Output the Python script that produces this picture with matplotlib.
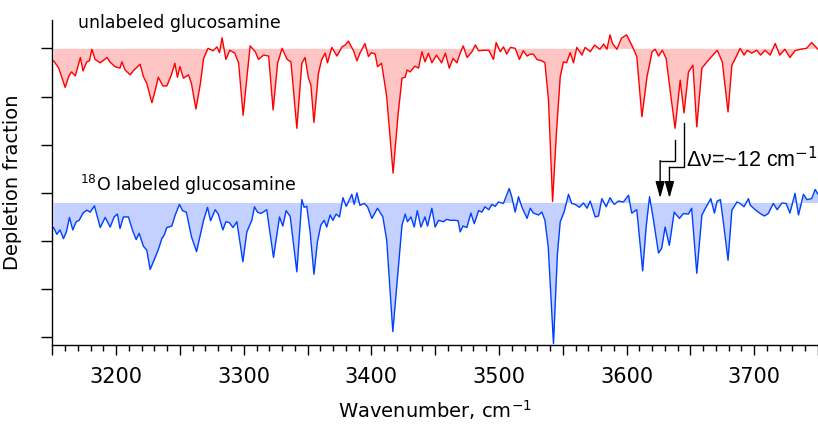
import numpy as np
import matplotlib
matplotlib.use("Agg")
import matplotlib.pyplot as plt
from matplotlib.ticker import MultipleLocator, FuncFormatter

# --- data (wavenumber in cm-1, depletion relative to baseline) ---
red_wn = [3151, 3155, 3157, 3160, 3163, 3165, 3168, 3172, 3174, 3177, 3179, 3181, 3183.5, 3187.5,
          3193, 3195, 3199, 3203, 3204.5, 3207, 3211, 3213.6, 3218.8, 3221.4, 3224, 3228, 3230.6,
          3233, 3236.6, 3239.7, 3243, 3246, 3248, 3250, 3252.7, 3256.7, 3259, 3262.5, 3266, 3268.5,
          3272, 3276, 3279, 3281, 3283, 3286, 3289, 3293, 3296, 3299.5, 3302.5, 3305, 3309, 3311.5,
          3315.5, 3319.5, 3323, 3326.5, 3330, 3334, 3337, 3341.6, 3345.5, 3348, 3350.7, 3352.6, 3355,
          3358.5, 3361, 3363.8, 3365.6, 3369, 3373, 3377, 3379.5, 3382, 3386, 3388.7, 3391, 3395,
          3397.7, 3400, 3403, 3404.8, 3408, 3412, 3417, 3421, 3424, 3426.5, 3428, 3430.4, 3434, 3437,
          3439.6, 3442, 3444.7, 3447.4, 3451, 3455, 3458, 3461, 3464, 3467, 3469.6, 3472, 3475,
          3478.8, 3481.5, 3484, 3488, 3492, 3495.7, 3497.8, 3501, 3503.5, 3506, 3509, 3512.7, 3516,
          3519, 3522, 3524.5, 3527, 3529.7, 3533.6, 3536, 3538.8, 3542, 3545, 3548, 3550.5, 3553,
          3555.8, 3558.4, 3561, 3565, 3567.5, 3571.5, 3575, 3579, 3582, 3584.6, 3587, 3589, 3592.4,
          3596, 3600, 3604, 3608, 3612, 3616, 3620, 3622.4, 3625, 3628, 3631, 3634.4, 3638, 3642,
          3645, 3648.5, 3652, 3655, 3659, 3663, 3667, 3671, 3675, 3679.5, 3682.5, 3686.5, 3689, 3692,
          3694.7, 3698, 3702, 3705, 3708.6, 3712.5, 3716.5, 3720, 3724, 3728, 3732, 3736, 3741, 3745,
          3750]
red_val = [-0.026, -0.041, -0.057, -0.081, -0.057, -0.049, -0.057, -0.019, -0.047, -0.028, -0.026,
           -0.002, -0.023, -0.030, -0.019, -0.028, -0.038, -0.041, -0.028, -0.045, -0.055, -0.046,
           -0.033, -0.059, -0.073, -0.113, -0.087, -0.060, -0.078, -0.078, -0.057, -0.031, -0.060,
           -0.038, -0.062, -0.055, -0.073, -0.126, -0.073, -0.021, 0.000, -0.005, 0.003, -0.009,
           0.022, -0.023, -0.004, -0.010, -0.031, -0.139, -0.059, 0.005, -0.007, -0.023, -0.014,
           -0.016, -0.128, -0.031, 0.000, -0.023, -0.028, -0.166, -0.031, -0.019, -0.062, -0.076,
           -0.154, -0.052, -0.024, -0.010, -0.030, 0.002, -0.016, 0.003, 0.007, 0.015, -0.005,
           -0.026, -0.010, 0.010, -0.017, -0.009, -0.012, -0.038, -0.031, -0.100, -0.259, -0.135,
           -0.062, -0.060, -0.045, -0.049, -0.037, -0.041, -0.007, -0.028, -0.010, -0.030, -0.014,
           -0.030, -0.010, -0.041, -0.021, -0.030, -0.010, 0.005, -0.019, -0.007, 0.007, -0.005,
           -0.004, -0.004, -0.023, 0.012, -0.007, 0.003, -0.012, 0.002, 0.000, -0.023, -0.005,
           -0.016, -0.012, -0.012, -0.023, -0.026, -0.030, -0.107, -0.318, -0.176, -0.059, -0.028,
           -0.030, -0.009, -0.030, 0.002, -0.014, 0.002, -0.007, 0.007, -0.002, 0.009, -0.002,
           0.028, 0.010, -0.002, 0.021, 0.028, 0.007, -0.017, -0.142, -0.059, -0.007, -0.002,
           -0.016, -0.004, -0.021, -0.093, -0.166, -0.066, -0.134, -0.049, -0.035, -0.163, -0.041,
           -0.028, -0.016, -0.004, -0.028, -0.132, -0.035, -0.014, 0.000, -0.014, -0.004, -0.010,
           -0.004, -0.014, -0.004, -0.014, 0.010, -0.014, -0.002, -0.019, -0.005, -0.002, 0.000,
           0.012, -0.002]

blue_wn = [3151, 3153.5, 3156, 3158.7, 3161, 3163.4, 3166, 3168.7, 3171, 3174, 3177, 3179.6, 3183,
           3187.5, 3191.4, 3195.3, 3198.4, 3201, 3203, 3205.7, 3209.6, 3213, 3215.7, 3218, 3221.4,
           3224, 3226.6, 3230.6, 3233, 3235.8, 3237.6, 3239.7, 3243.6, 3246, 3249.6, 3252, 3255,
           3259, 3263, 3268.5, 3271.6, 3274, 3277.6, 3280, 3283.6, 3286, 3288.8, 3291.5, 3294.6,
           3299.3, 3302.4, 3306.3, 3308.4, 3310.7, 3313.4, 3318, 3323.3, 3328, 3330.6, 3333.2,
           3336.4, 3341.6, 3345.5, 3347.3, 3349.4, 3352, 3355, 3357.7, 3360.4, 3363, 3365, 3367.7,
           3369.8, 3372.4, 3375, 3377.7, 3380.3, 3384.7, 3386.5, 3388.7, 3391, 3394.4, 3397,
           3400.4, 3404.8, 3409, 3412, 3416.8, 3420.5, 3424, 3426.5, 3428.3, 3431, 3433.6, 3436,
           3438.8, 3442, 3444, 3447.4, 3450, 3452.6, 3456.5, 3459, 3461.7, 3465.7, 3468, 3469.6,
           3471.7, 3474.8, 3478, 3480.6, 3484, 3486.6, 3489, 3492, 3494.4, 3497, 3499.6, 3503.5,
           3508, 3510, 3512.7, 3515.3, 3518, 3522, 3524.5, 3527, 3531, 3533.6, 3536, 3538.6, 3542.7,
           3545.8, 3548, 3551, 3554.5, 3557, 3559.7, 3563, 3566.2, 3569, 3571.5, 3575.4, 3578,
           3580.6, 3584, 3587, 3590.3, 3593.6, 3597.5, 3601.5, 3604, 3608, 3612.6, 3615.3, 3618,
           3621, 3625, 3627.5, 3630.2, 3633.5, 3637.3, 3641.4, 3644.5, 3648.5, 3651, 3655, 3659,
           3663, 3666, 3668.8, 3671, 3673.5, 3676, 3679.5, 3682.5, 3686.5, 3689, 3692, 3695.5, 3697,
           3700.8, 3704.7, 3708, 3711, 3715, 3718, 3721.7, 3725, 3728, 3732, 3734.7, 3738.6, 3741.3,
           3745, 3747.8, 3750]
blue_val = [-0.052, -0.066, -0.057, -0.075, -0.061, -0.031, -0.057, -0.040, -0.037, -0.022, -0.016,
            -0.020, -0.007, -0.052, -0.031, -0.051, -0.030, -0.024, -0.054, -0.030, -0.030, -0.059,
            -0.077, -0.064, -0.091, -0.099, -0.139, -0.114, -0.098, -0.075, -0.068, -0.052, -0.049,
            -0.028, -0.004, -0.017, -0.020, -0.071, -0.102, -0.037, -0.010, -0.038, -0.015, -0.024,
            -0.057, -0.040, -0.042, -0.052, -0.040, -0.123, -0.061, -0.037, -0.009, -0.020, -0.023,
            -0.015, -0.114, -0.030, -0.049, -0.017, -0.029, -0.144, 0.006, -0.010, -0.008, -0.061,
            -0.149, -0.082, -0.047, -0.037, -0.051, -0.026, -0.037, -0.024, -0.030, 0.010, -0.008,
            0.017, -0.004, 0.020, -0.006, -0.002, -0.009, -0.033, -0.012, -0.030, -0.078, -0.268,
            -0.154, -0.047, -0.024, -0.040, -0.030, -0.051, -0.017, -0.051, -0.030, -0.049, -0.012,
            -0.051, -0.037, -0.040, -0.035, -0.037, -0.037, -0.038, -0.061, -0.049, -0.052, -0.022,
            -0.044, -0.017, -0.020, -0.009, -0.015, -0.004, -0.008, 0.001, -0.002, 0.029, 0.012,
            -0.020, 0.012, -0.010, -0.033, -0.012, -0.022, -0.026, -0.020, -0.037, -0.092, -0.293,
            -0.106, -0.040, -0.020, 0.017, -0.002, -0.004, -0.010, -0.001, -0.012, 0.003, -0.030,
            -0.028, 0.008, -0.009, 0.010, -0.004, 0.003, 0.001, 0.015, -0.022, -0.015, -0.142,
            -0.051, 0.012, -0.035, -0.105, -0.095, -0.051, -0.089, -0.020, -0.033, -0.023, -0.024,
            -0.012, -0.147, -0.026, -0.006, 0.008, -0.022, 0.003, 0.006, -0.044, -0.120, -0.016,
            0.001, -0.002, -0.009, 0.008, -0.006, -0.015, -0.023, -0.028, -0.023, -0.002, -0.015,
            -0.001, -0.002, -0.022, 0.019, -0.026, 0.017, 0.006, 0.008, 0.027, 0.017]

red_offset = 0.0
blue_offset = -0.32

plt.rcParams["font.family"] = "DejaVu Sans"

fig = plt.figure(figsize=(8.18, 4.36), dpi=100)
ax = fig.add_axes([0.064, 0.209, 0.936, 0.745])

red_wn = np.array(red_wn)
blue_wn = np.array(blue_wn)
red_y = red_offset + np.array(red_val)
blue_y = blue_offset + np.array(blue_val)

ax.fill_between(red_wn, red_offset, red_y, color="#ffc4c4", lw=0)
ax.plot(red_wn, red_y, color="#ff0000", lw=1.0, solid_joinstyle="round")
ax.fill_between(blue_wn, blue_offset, blue_y, color="#c4d0ff", lw=0)
ax.plot(blue_wn, blue_y, color="#0040ff", lw=1.0, solid_joinstyle="round")

ax.set_xlim(3150, 3750)
ax.set_ylim(-0.6156, 0.0587)

# axes styling (Igor-like)
for s in ("top", "right"):
    ax.spines[s].set_visible(False)
for s in ("left", "bottom"):
    ax.spines[s].set_linewidth(1.0)

ax.set_yticks(np.arange(0, -0.61, -0.1))
ax.tick_params(axis="y", labelleft=False, length=8, width=1.0, direction="out")
ax.xaxis.set_major_locator(MultipleLocator(50))
ax.xaxis.set_minor_locator(MultipleLocator(10))
ax.xaxis.set_major_formatter(FuncFormatter(lambda v, p: f"{v:.0f}" if round(v) % 100 == 0 else ""))
ax.tick_params(axis="x", which="major", length=7, width=1.0, labelsize=15, pad=9)
ax.tick_params(axis="x", which="minor", length=4, width=1.0)

ax.set_xlabel("Wavenumber, cm$^{-1}$", fontsize=14, labelpad=8)
ax.set_ylabel("Depletion fraction", fontsize=14, labelpad=14)

ax.text(3170.2, 0.0415, "unlabeled glucosamine", fontsize=12.5, va="baseline")
ax.text(3171.8, -0.2954, "$^{18}$O labeled glucosamine", fontsize=12.5, va="baseline")
ax.text(3646.5, -0.246, "\u0394\u03bd=~12 cm$^{-1}$", fontsize=15.5, va="baseline",
        family="Liberation Sans")

# bent arrows marking the shift
arrows = [
    ([3644.6, 3644.6, 3633.6, 3633.6], [-0.155, -0.247, -0.247, -0.311]),
    ([3638.1, 3638.1, 3626.3, 3626.3], [-0.190, -0.233, -0.233, -0.311]),
]
for xs, ys in arrows:
    ax.plot(xs[:3], ys[:3], color="black", lw=1.0, solid_joinstyle="miter")
    ax.annotate("", xy=(xs[3], ys[3]), xytext=(xs[2], ys[2]),
                arrowprops=dict(arrowstyle="-|>,head_length=1.0,head_width=0.28",
                                color="black", lw=1.0, shrinkA=0, shrinkB=0))

fig.savefig("out.png", dpi=100)
